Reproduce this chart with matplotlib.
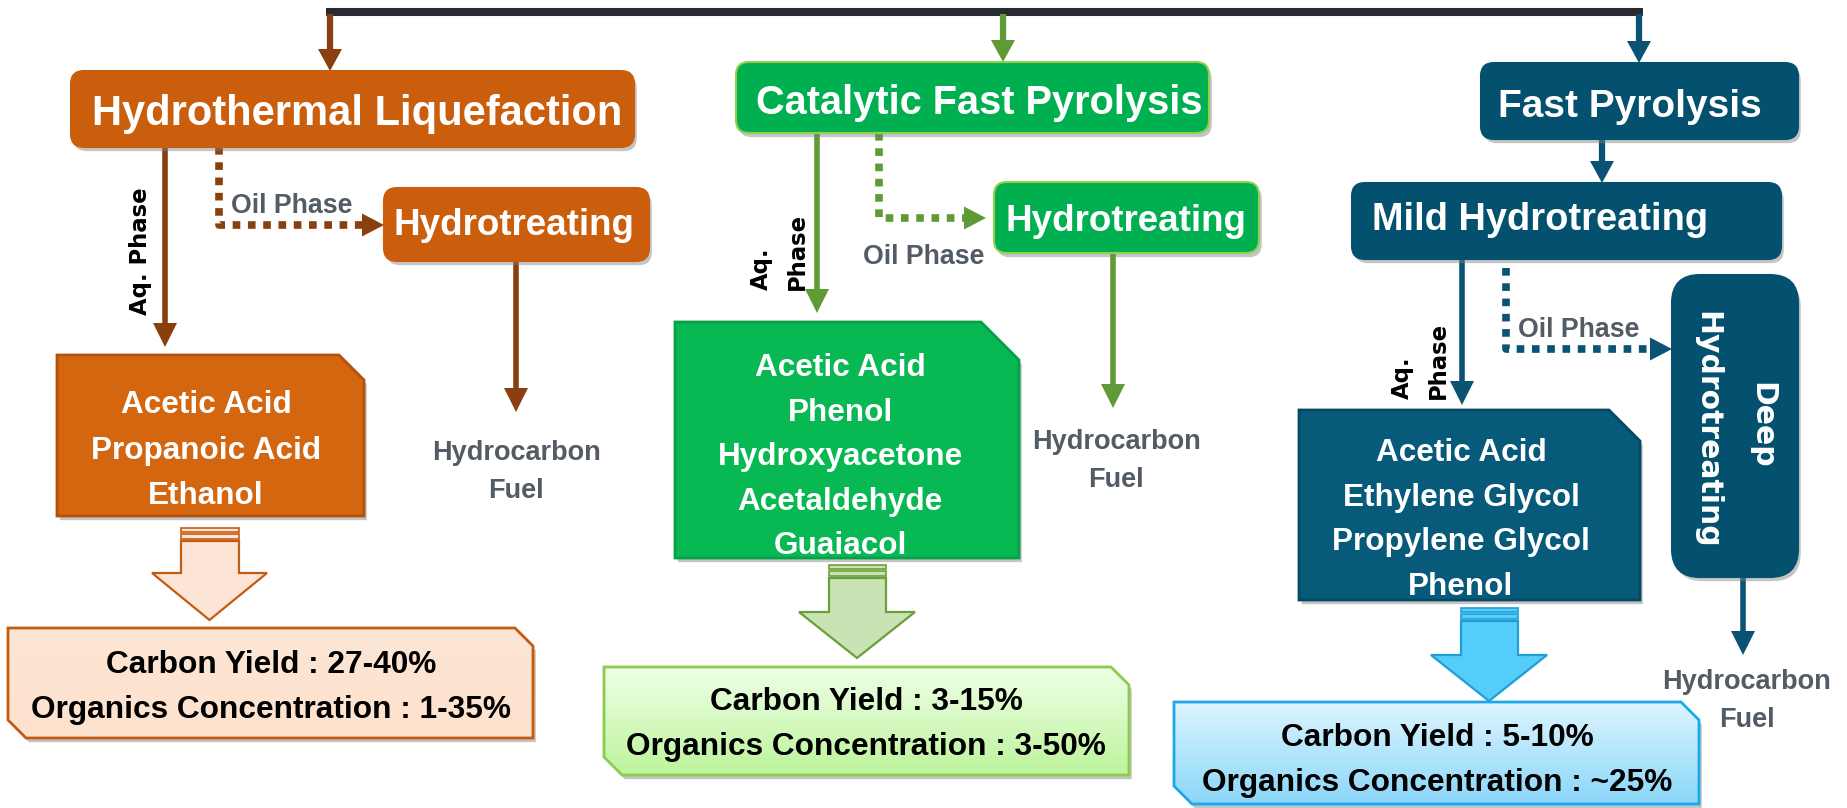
import numpy as np
import matplotlib.pyplot as plt
import matplotlib.patheffects as pe
from matplotlib.patches import FancyBboxPatch, Polygon
from matplotlib.colors import LinearSegmentedColormap

plt.rcParams['font.family'] = ['Liberation Sans', 'DejaVu Sans']

# --- content of the three routes ---
routes = ['Hydrothermal Liquefaction', 'Catalytic Fast Pyrolysis', 'Fast Pyrolysis']
upgrading = ['Hydrotreating', 'Hydrotreating', 'Mild Hydrotreating']
compounds = [
    ['Acetic Acid', 'Propanoic Acid', 'Ethanol'],
    ['Acetic Acid', 'Phenol', 'Hydroxyacetone', 'Acetaldehyde', 'Guaiacol'],
    ['Acetic Acid', 'Ethylene Glycol', 'Propylene Glycol', 'Phenol'],
]
carbon_yield = ['27-40%', '3-15%', '5-10%']
organics_conc = ['1-35%', '3-50%', '~25%']
aq_labels = [['Aq. Phase'], ['Aq.', 'Phase'], ['Aq.', 'Phase']]
oil_label = 'Oil Phase'
fuel_label = ['Hydrocarbon', 'Fuel']
deep_label = ['Deep', 'Hydrotreating']

# --- colours per route ---
box_col = ['#CB5E0C', '#00B050', '#03516F']
box_edge = ['#CB5E0C', '#8FD14F', '#03516F']
arrow_col = ['#8A3F0E', '#5E9A35', '#0A5374']
acid_col = ['#D4660F', '#07B853', '#085A7A']
acid_edge = ['#B3520B', '#05A048', '#054963']
block_fill = ['#FCE4D6', '#C9E3B5', '#55CDFA']
block_edge = ['#C55A11', '#6A9F3A', '#1F9ED6']
res_top = ['#FDE6D5', '#EEFFE6', '#DDF5FF']
res_bot = ['#FDE2CD', '#BDF49C', '#8BD6F9']
res_edge = ['#C55A11', '#8CCB4E', '#1CA8EA']
GRAY = '#535B64'

# --- layout (pixel units, y down) ---
layout = [
    dict(title=(71, 71, 634, 147), title_txt=(357, 110, 30), drop=330,
         up=(384, 188, 649, 261), up_txt=(514, 222, 26.5),
         aq=(165, 147, 347), aq_txt=[(140, 251)],
         oil=[(219, 147), (219, 225), (384, 225)], oil_txt=(292, 203),
         fuel=(516, 261, 412), fuel_txt=(516, 450),
         acid=(57, 355, 364, 516), cut=25, acid_txt=(206, 402, 45.5),
         block=(528, 181, 239, 573, 152, 267, 620),
         res=(8, 628, 533, 738), res_txt=(271, 662)),
    dict(title=(736, 62, 1209, 133), title_txt=(979, 100, 28.6), drop=1003,
         up=(994, 182, 1259, 253), up_txt=(1126, 218, 26.5),
         aq=(817, 133, 313), aq_txt=[(761, 290), (797, 290)],
         oil=[(879, 133), (879, 218), (986, 218)], oil_txt=(924, 254),
         fuel=(1113, 253, 408), fuel_txt=(1116, 439),
         acid=(675, 322, 1019, 558), cut=38, acid_txt=(840, 365, 44.5),
         block=(565, 829, 886, 612, 799, 915, 658),
         res=(604, 667, 1129, 775), res_txt=(866, 699)),
    dict(title=(1481, 63, 1798, 139), title_txt=(1630, 103, 28), drop=1639,
         up=(1352, 183, 1781, 259), up_txt=(1540, 216, 27.4),
         aq=(1462, 259, 405), aq_txt=[(1402, 399), (1438, 399)],
         oil=[(1506, 268), (1506, 349), (1672, 349)], oil_txt=(1579, 327),
         fuel=(1743, 577, 655), fuel_txt=(1747, 679),
         acid=(1299, 410, 1640, 600), cut=31, acid_txt=(1461, 450, 44.5),
         block=(608, 1461, 1518, 655, 1431, 1547, 701),
         res=(1174, 702, 1699, 804), res_txt=(1437, 735)),
]

fig = plt.figure(figsize=(18.47, 8.08), dpi=100)
ax = fig.add_axes([0, 0, 1, 1])
ax.axis('off')

shadow = [pe.SimplePatchShadow(offset=(2, -3), shadow_rgbFace='#7f7f7f', alpha=0.45), pe.Normal()]


def rbox(x0, y0, x1, y1, fc, ec, r=12):
    p = FancyBboxPatch((x0, y0), x1 - x0, y1 - y0, boxstyle=f'round,pad=0,rounding_size={r}',
                       fc=fc, ec=ec, lw=1.5, zorder=3)
    p.set_path_effects(shadow)
    ax.add_patch(p)


def cut_pts(x0, y0, x1, y1, c_tr, c_bl=0):
    pts = [(x0, y0), (x1 - c_tr, y0), (x1, y0 + c_tr), (x1, y1)]
    if c_bl:
        pts += [(x0 + c_bl, y1), (x0, y1 - c_bl)]
    else:
        pts += [(x0, y1)]
    return pts


def arrow(pts, color, lw=4, hl=23, hw=12, dotted=False):
    pts = np.array(pts, float)
    u = pts[-1] - pts[-2]
    u /= np.hypot(*u)
    n = np.array([-u[1], u[0]])
    base = pts[-1] - u * hl
    line = np.vstack([pts[:-1], base + u * 1])
    if dotted:
        ax.plot(line[:, 0], line[:, 1], color=color, lw=lw, ls=(0, (1, 1)),
                dash_capstyle='butt', zorder=2)
    else:
        ax.plot(line[:, 0], line[:, 1], color=color, lw=lw, solid_capstyle='butt', zorder=2)
    ax.add_patch(Polygon([base + n * hw, pts[-1], base - n * hw], closed=True, fc=color, lw=0, zorder=2))


def label(x, ymid, s, size, color='white', font=None, **kw):
    # y is the centre of the capital letters
    base = ymid + 0.716 * size * 100 / 72 / 2
    ax.text(x, base, s, fontsize=size, color=color, ha='center', va='baseline',
            fontweight='bold', family=font, zorder=5, **kw)


def block_arrow(top, sx0, sx1, neck, hx0, hx1, tip, fc, ec):
    xc = (hx0 + hx1) / 2
    for a, b in [(0, 4), (5.5, 11)]:
        ax.add_patch(Polygon([(sx0, top + a), (sx1, top + a), (sx1, top + b), (sx0, top + b)],
                             fc=fc, ec=ec, lw=1.2, zorder=3))
    s = top + 13
    ax.add_patch(Polygon([(sx0, s), (sx1, s), (sx1, neck), (hx1, neck), (xc, tip),
                          (hx0, neck), (sx0, neck)], fc=fc, ec=ec, lw=1.6, zorder=3))


# top distribution line
ax.plot([326, 1643], [12, 12], color='#272B2F', lw=5.8, solid_capstyle='butt', zorder=2)

for i, L in enumerate(layout):
    c = arrow_col[i]
    # drop from top line
    arrow([(L['drop'], 14), (L['drop'], L['title'][1])], c, lw=4.5, hl=22, hw=12)
    rbox(*L['title'], box_col[i], box_edge[i], r=13)
    x, y, s = L['title_txt']
    label(x, y, routes[i], s)

    rbox(*L['up'], box_col[i], box_edge[i], r=13)
    x, y, s = L['up_txt']
    label(x, y, upgrading[i], s)

    # aqueous phase arrow
    ax_, y0, y1 = L['aq']
    arrow([(ax_, y0), (ax_, y1)], c, lw=4, hl=24, hw=12)
    if len(aq_labels[i]) == 1:
        ax.text(*L['aq_txt'][0], aq_labels[i][0], rotation=90, ha='center', va='center',
                fontsize=16.4, fontweight='bold', family='DejaVu Sans', color='black')
    else:
        for (tx, ty), s in zip(L['aq_txt'], aq_labels[i]):
            ax.text(tx, ty, s, rotation=90, ha='center', va='bottom',
                    fontsize=16.4, fontweight='bold', family='DejaVu Sans', color='black')

    # oil phase (dotted)
    arrow(L['oil'], c, lw=5.5, hl=22, hw=11.5, dotted=True)
    label(*L['oil_txt'], oil_label, 19.3, color=GRAY)

    # hydrocarbon fuel
    fx, fy0, fy1 = L['fuel']
    arrow([(fx, fy0), (fx, fy1)], c, lw=4, hl=24, hw=12)
    tx, ty = L['fuel_txt']
    for k, s in enumerate(fuel_label):
        label(tx, ty + 38 * k, s, 19.5, color=GRAY)

    # compound box
    p = Polygon(cut_pts(*L['acid'], L['cut']), closed=True, fc=acid_col[i], ec=acid_edge[i],
                lw=2, zorder=3)
    p.set_path_effects(shadow)
    ax.add_patch(p)
    tx, ty, dy = L['acid_txt']
    for k, s in enumerate(compounds[i]):
        label(tx, ty + dy * k, s, 22.7)

    block_arrow(*L['block'], block_fill[i], block_edge[i])

    # result box with vertical gradient
    x0, y0, x1, y1 = L['res']
    pts = cut_pts(x0, y0, x1, y1, 18, 18)
    back = Polygon(pts, closed=True, fc=res_top[i], ec='none', zorder=2)
    back.set_path_effects(shadow)
    ax.add_patch(back)
    cmap = LinearSegmentedColormap.from_list('g%d' % i, [res_top[i], res_bot[i]])
    im = ax.imshow(np.linspace(0, 1, 256).reshape(-1, 1), cmap=cmap, aspect='auto',
                   extent=(x0, x1, y1, y0), origin='upper', interpolation='bilinear', zorder=2.5)
    im.set_clip_path(back)
    ax.add_patch(Polygon(pts, closed=True, fc='none', ec=res_edge[i], lw=2, zorder=3))
    tx, ty = L['res_txt']
    label(tx, ty, 'Carbon Yield : ' + carbon_yield[i], 22.8, color='black')
    label(tx, ty + 45, 'Organics Concentration : ' + organics_conc[i], 22.8, color='black')

# fast pyrolysis -> mild hydrotreating, then deep hydrotreating
arrow([(1602, 139), (1602, 183)], arrow_col[2], lw=4.5, hl=22, hw=12)
rbox(1672, 275, 1798, 577, box_col[2], box_col[2], r=28)
ax.text(1762, 425, deep_label[0], rotation=270, ha='center', va='center', color='white',
        fontsize=21.5, fontweight='bold', family='DejaVu Sans', zorder=5)
ax.text(1707, 430, deep_label[1], rotation=270, ha='center', va='center', color='white',
        fontsize=21.5, fontweight='bold', family='DejaVu Sans', zorder=5)

ax.set_xlim(0, 1847)
ax.set_ylim(808, 0)
fig.savefig('out.png', dpi=100)
